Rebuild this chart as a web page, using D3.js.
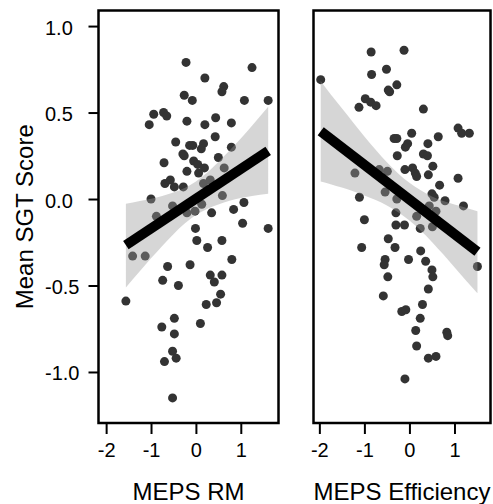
<!DOCTYPE html>
<html>
<head>
<meta charset="utf-8">
<script src="https://cdn.jsdelivr.net/npm/d3@7"></script>
<style>
  html, body { margin: 0; padding: 0; background: #fff; }
  svg { display: block; font-family: "Liberation Sans", Arial, sans-serif; }
</style>
</head>
<body>
<svg id="chart" width="493" height="504"></svg>
<script>
// ---- Scatter data: MEPS RM panel ----
const rmX = [-0.22, 1.25, 0.20, 0.62, 0.58, -0.26, -0.08, 1.08, 1.61, -0.94,
  -0.72, -0.65, -1.04, -0.20, 0.44, 0.20, 0.79, 0.43, -0.45, -0.14,
  -0.07, 0.17, 0.12, 0.79, -0.29, -0.26, 0.50, -0.71, -0.05, 0.04,
  0.19, 0.63, -0.20, 0.06, -0.69, -0.57, -0.48, -0.28, 0.17, 0.32,
  -1.00, 0.59, 1.07, -0.52, -0.88, -0.20, -0.02, 0.13, 0.35, 0.84,
  1.04, -0.01, 1.61, 0.02, 0.58, 0.26, -1.41, -1.13, -0.63, -0.13,
  0.80, 0.32, 0.58, 0.41, -0.74, -0.39, -1.56, 0.55, 0.23, 0.46,
  -0.48, -0.76, -0.48, 0.10, -0.52, -0.44, -0.70, -0.52];
const rmY = [0.79, 0.76, 0.70, 0.65, 0.62, 0.60, 0.57, 0.57, 0.57, 0.49,
  0.50, 0.48, 0.43, 0.45, 0.47, 0.43, 0.44, 0.36, 0.33, 0.31,
  0.31, 0.32, 0.29, 0.30, 0.26, 0.25, 0.24, 0.21, 0.22, 0.20,
  0.18, 0.18, 0.16, 0.15, 0.09, 0.11, 0.07, 0.07, 0.09, 0.11,
  0.00, 0.02, -0.02, -0.04, -0.10, -0.08, -0.07, -0.03, -0.08, -0.06,
  -0.14, -0.17, -0.17, -0.24, -0.24, -0.28, -0.33, -0.33, -0.39, -0.38,
  -0.35, -0.44, -0.44, -0.48, -0.47, -0.50, -0.59, -0.55, -0.61, -0.60,
  -0.69, -0.74, -0.78, -0.72, -0.88, -0.92, -0.94, -1.15];

// Fitted line and 95% confidence band, MEPS RM
const rmFitX = [-1.56, 1.61];
const rmFitY = [-0.267, 0.278];
const rmBandX  = [-1.56, -1.25, -1.0, -0.75, -0.5, -0.25, 0, 0.25, 0.5, 0.75, 1.0, 1.25, 1.61];
const rmBandLo = [-0.512, -0.418, -0.343, -0.271, -0.203, -0.142, -0.092, -0.057, -0.031, -0.010, 0.006, 0.018, 0.030];
const rmBandHi = [-0.028, -0.012, 0.002, 0.018, 0.038, 0.064, 0.102, 0.152, 0.214, 0.281, 0.350, 0.424, 0.533];

// ---- Scatter data: MEPS Efficiency panel ----
const effX = [-0.85, -0.12, -1.97, -0.84, -0.51, -0.47, -0.44, -0.28, -0.98, -0.86,
  -0.74, -1.12, 0.31, 1.08, 1.16, 1.33, 0.05, -0.34, -0.28, 0.64,
  -0.04, -0.09, 0.41, -0.27, 0.31, 0.40, -1.21, -0.67, -0.49, -0.10,
  0.07, 0.13, 0.16, 0.52, 0.42, 1.08, 0.67, -1.11, -0.54, -0.28,
  0.50, 0.55, 0.79, 1.20, 0.44, 0.59, -0.30, 0.16, -1.00, -0.30,
  -0.11, 0.24, 0.51, -1.06, -0.47, -0.32, 0.25, -0.54, -0.56, -0.02,
  0.36, 0.50, 0.52, -0.48, 1.51, 0.42, -0.58, 0.29, -0.17, -0.08,
  0.24, 0.14, 0.83, 0.85, 0.16, 0.42, 0.59, -0.10];
const effY = [0.85, 0.86, 0.69, 0.72, 0.75, 0.63, 0.62, 0.66, 0.58, 0.56,
  0.54, 0.53, 0.52, 0.41, 0.38, 0.38, 0.38, 0.35, 0.35, 0.36,
  0.32, 0.30, 0.32, 0.25, 0.26, 0.25, 0.15, 0.17, 0.16, 0.17,
  0.18, 0.15, 0.13, 0.19, 0.14, 0.12, 0.08, 0.01, 0.04, 0.00,
  0.03, 0.01, -0.01, -0.04, -0.04, -0.07, -0.08, -0.10, -0.12, -0.15,
  -0.15, -0.17, -0.16, -0.28, -0.23, -0.28, -0.30, -0.35, -0.38, -0.35,
  -0.36, -0.41, -0.45, -0.45, -0.39, -0.52, -0.56, -0.61, -0.65, -0.64,
  -0.69, -0.76, -0.77, -0.79, -0.85, -0.92, -0.91, -1.04];

// Fitted line and 95% confidence band, MEPS Efficiency
const effFitX = [-1.97, 1.51];
const effFitY = [0.392, -0.305];
const effBandX  = [-1.97, -1.75, -1.5, -1.25, -1.0, -0.75, -0.5, -0.25, 0, 0.25, 0.5, 0.75, 1.0, 1.25, 1.51];
const effBandLo = [0.102, 0.086, 0.066, 0.045, 0.021, -0.006, -0.037, -0.076, -0.124, -0.182, -0.248, -0.320, -0.395, -0.470, -0.545];
const effBandHi = [0.682, 0.606, 0.525, 0.443, 0.362, 0.285, 0.212, 0.148, 0.094, 0.050, 0.015, -0.012, -0.032, -0.050, -0.070];

// Axis ticks and titles
const xTicks = [-2, -1, 0, 1];
const yTicks = [-1.0, -0.5, 0.0, 0.5, 1.0];
const yTitle = "Mean SGT Score";

// ---- Layout ----
const svg = d3.select("#chart");
const plotTop = 10.5, plotBottom = 423;
const y = d3.scaleLinear().domain([-1.295, 1.09]).range([plotBottom, plotTop]);

const panels = [
  { title: "MEPS RM", left: 98.5, right: 278.5, xDomain: [-2.17, 1.84],
    px: rmX, py: rmY, fx: rmFitX, fy: rmFitY, bx: rmBandX, blo: rmBandLo, bhi: rmBandHi, yAxis: true },
  { title: "MEPS Efficiency", left: 313.5, right: 490.5, xDomain: [-2.13, 1.80],
    px: effX, py: effY, fx: effFitX, fy: effFitY, bx: effBandX, blo: effBandLo, bhi: effBandHi, yAxis: false }
];

panels.forEach(p => {
  const x = d3.scaleLinear().domain(p.xDomain).range([p.left, p.right]);
  const g = svg.append("g");

  // points
  g.append("g").selectAll("circle")
    .data(d3.range(p.px.length))
    .join("circle")
    .attr("cx", i => x(p.px[i]))
    .attr("cy", i => y(p.py[i]))
    .attr("r", 4.5)
    .attr("fill", "#333333");

  // confidence band (drawn over points, semi-transparent)
  const band = d3.area()
    .x(i => x(p.bx[i]))
    .y0(i => y(p.blo[i]))
    .y1(i => y(p.bhi[i]))
    .curve(d3.curveMonotoneX);
  g.append("path")
    .attr("d", band(d3.range(p.bx.length)))
    .attr("fill", "#999999")
    .attr("fill-opacity", 0.4);

  // regression line
  const line = d3.line().x(i => x(p.fx[i])).y(i => y(p.fy[i]));
  g.append("path")
    .attr("d", line(d3.range(p.fx.length)))
    .attr("fill", "none")
    .attr("stroke", "#000")
    .attr("stroke-width", 10);

  // x axis
  const xAxis = d3.axisBottom(x).tickValues(xTicks)
    .tickFormat(d => (d < 0 ? "-" : "") + Math.abs(d))
    .tickSize(11).tickPadding(9);
  const ga = g.append("g").attr("transform", `translate(0,${plotBottom})`).call(xAxis);
  ga.select(".domain").remove();
  ga.selectAll(".tick line").attr("stroke", "#000").attr("stroke-width", 2);
  ga.selectAll(".tick text").attr("font-size", 20).attr("fill", "#000")
    .attr("font-family", "Liberation Sans, Arial, sans-serif");

  // y axis on first panel only; labels share a common left edge
  if (p.yAxis) {
    const yAxis = d3.axisLeft(y).tickValues(yTicks)
      .tickFormat(d => (d < 0 ? "-" : "") + Math.abs(d).toFixed(1))
      .tickSize(10);
    const gy = g.append("g").attr("transform", `translate(${p.left},0)`).call(yAxis);
    gy.select(".domain").remove();
    gy.selectAll(".tick line").attr("stroke", "#000").attr("stroke-width", 2);
    gy.selectAll(".tick text")
      .attr("x", 45 - p.left)
      .attr("dy", "0.4em")
      .attr("text-anchor", "start")
      .attr("font-size", 20).attr("fill", "#000")
      .attr("font-family", "Liberation Sans, Arial, sans-serif");
  }

  // panel frame
  g.append("rect")
    .attr("x", p.left).attr("y", plotTop)
    .attr("width", p.right - p.left).attr("height", plotBottom - plotTop)
    .attr("fill", "none").attr("stroke", "#000").attr("stroke-width", 2.5);

  // x title
  g.append("text")
    .attr("x", (p.left + p.right) / 2).attr("y", 500)
    .attr("text-anchor", "middle")
    .attr("font-size", 24).attr("fill", "#000")
    .text(p.title);
});

// y title
svg.append("text")
  .attr("transform", `translate(33,${(plotTop + plotBottom) / 2}) rotate(-90)`)
  .attr("text-anchor", "middle")
  .attr("font-size", 24).attr("fill", "#000")
  .text(yTitle);
</script>
</body>
</html>
